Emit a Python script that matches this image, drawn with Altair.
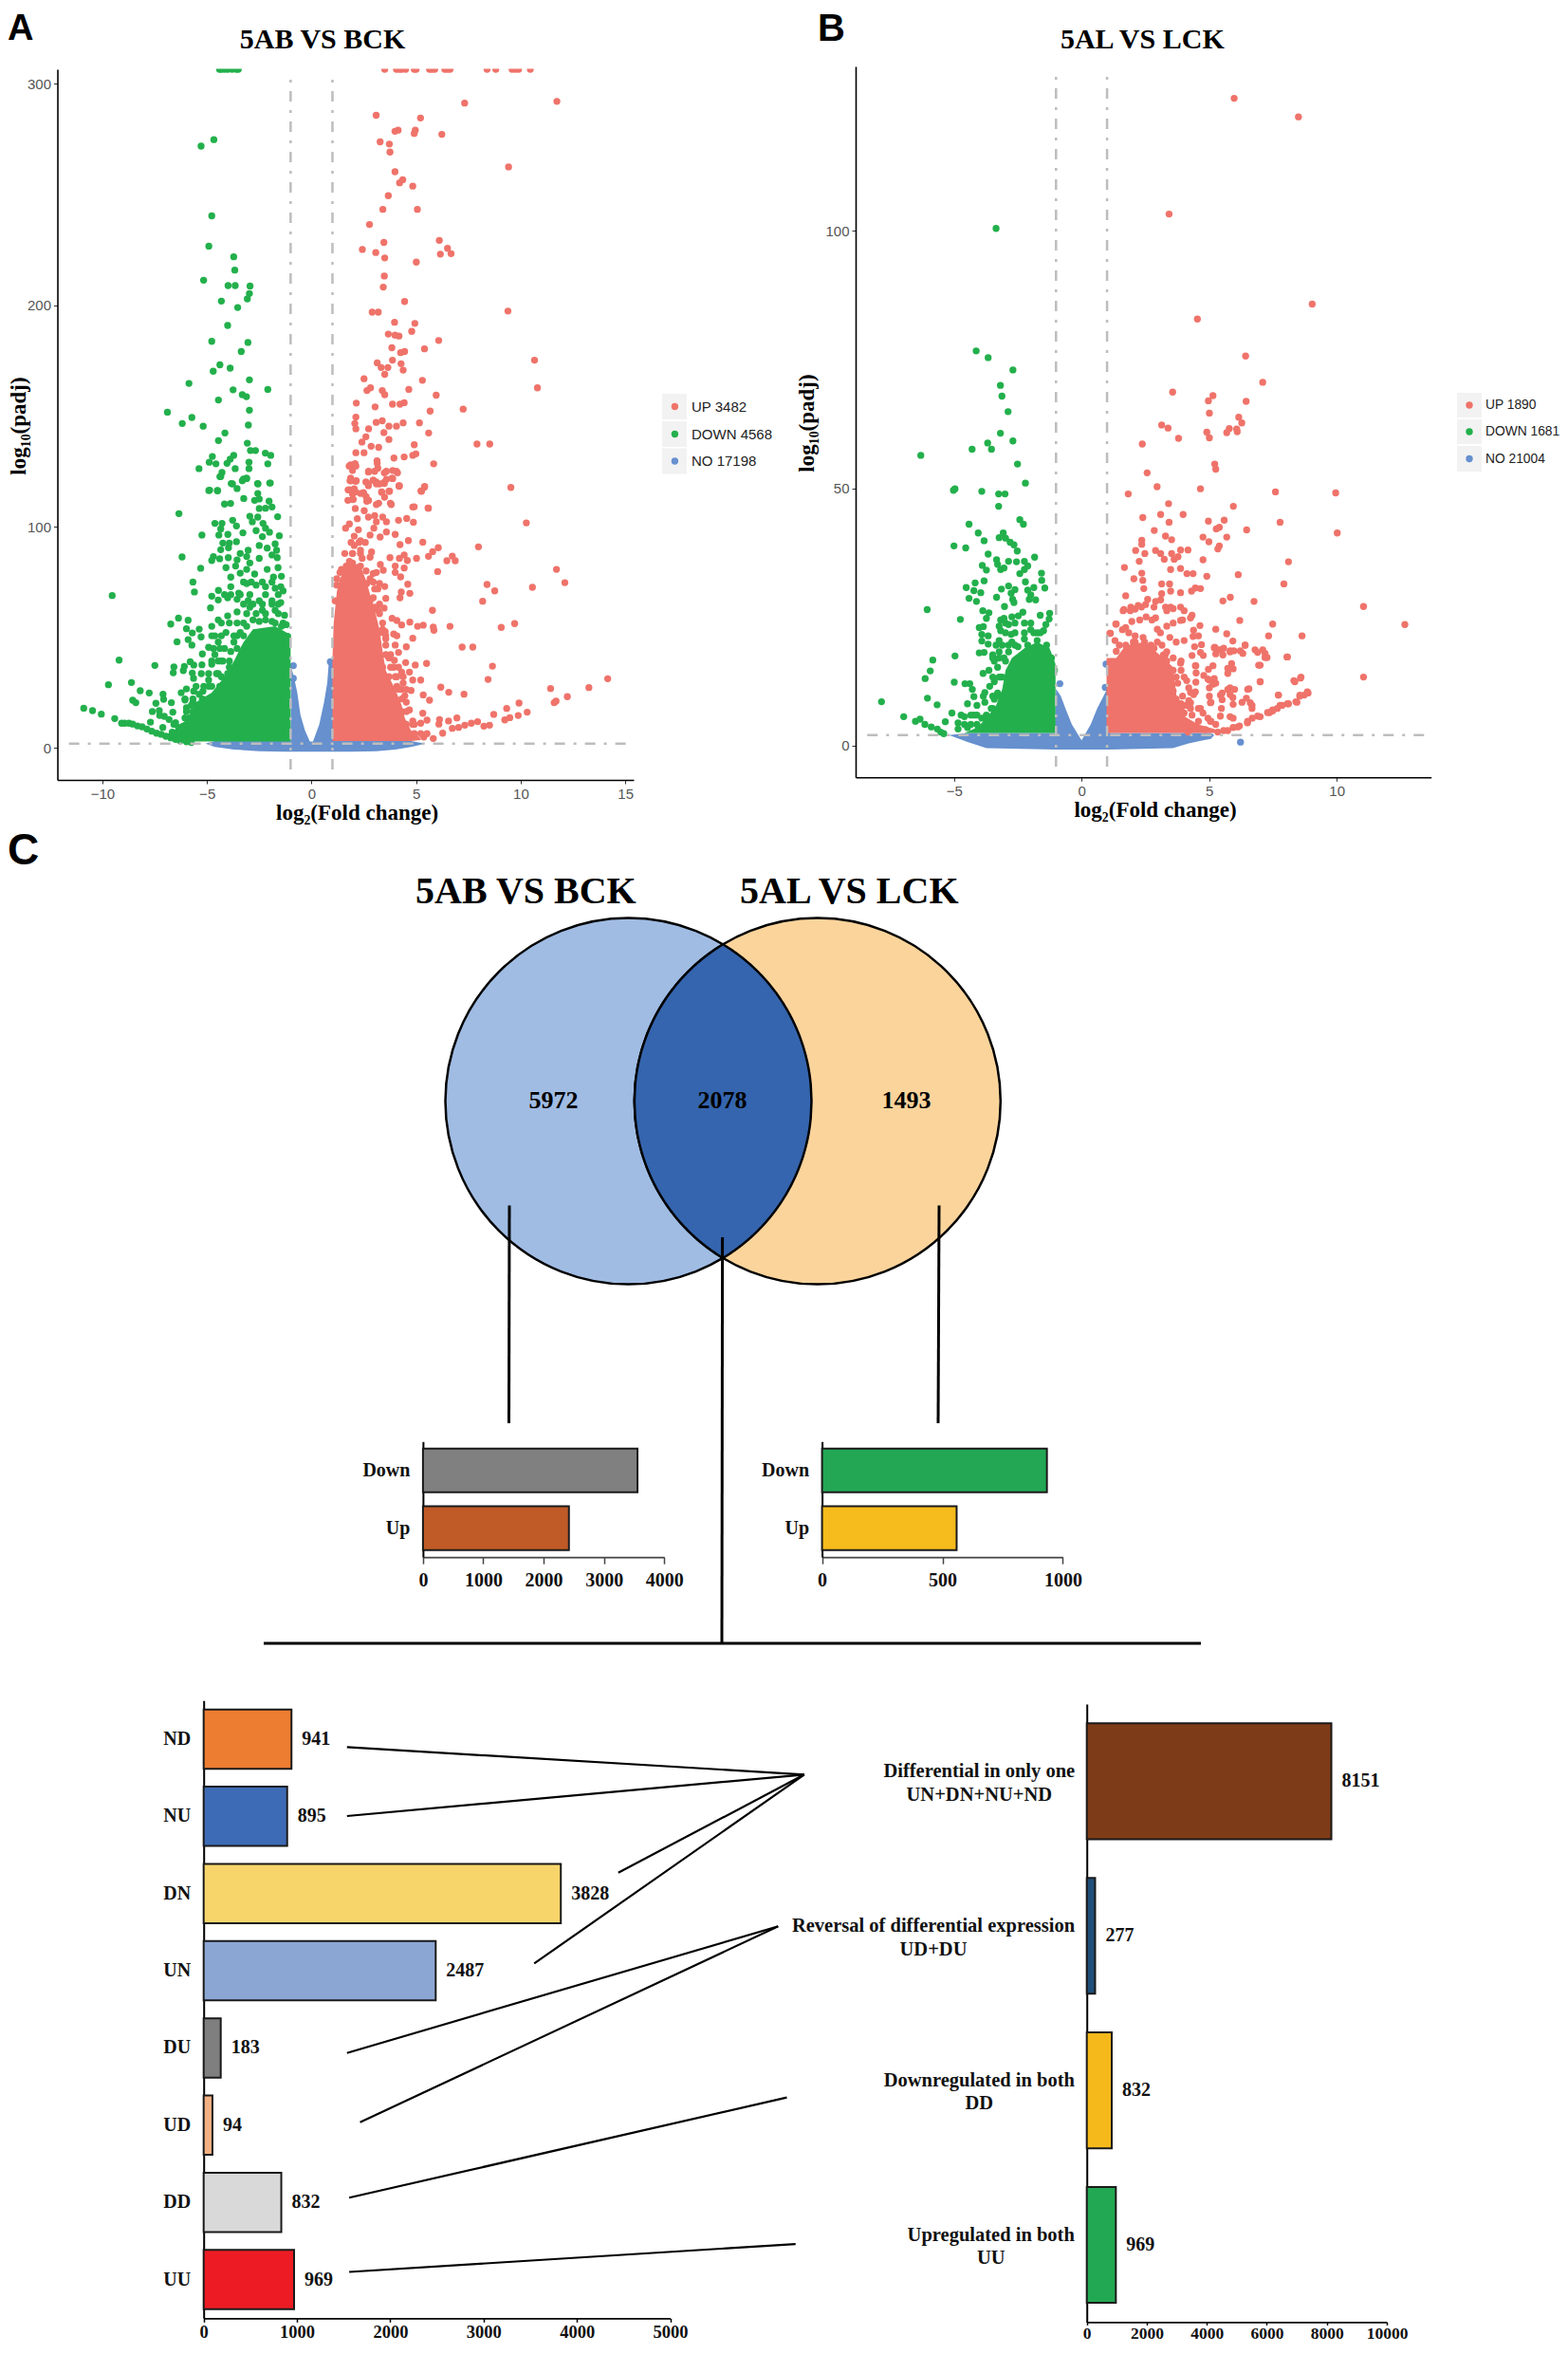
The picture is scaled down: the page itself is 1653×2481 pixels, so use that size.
import numpy as np
import pandas as pd
import altair as alt

W, H = 1637, 2461
SERIF = "Liberation Serif"
SANS = "Liberation Sans"
RED, GREEN, BLUE = "#EF736A", "#23B04C", "#6690CE"
RULE = "#BDBDBD"
DASH = [11, 9, 3, 9]
PT = 54

# ---------- Panel A values ----------
a_top_green_x = [-4.4, -4.3, -4.15, -4.0, -3.8, -3.6, -3.5]
a_top_red_x = [3.5, 4.06, 4.2, 4.31, 4.5, 4.91, 5.0, 5.64, 5.75, 5.89, 6.37, 6.5, 6.62, 8.39, 8.81, 9.59, 9.75, 9.9, 10.46]
a_down = [(-5.28,271.9),(-4.67,274.8),(-4.77,240.4),(-4.91,226.7),(-3.72,221.9),(-3.67,215.9),(-5.16,211.3),(-3.99,208.9),(-3.65,208.9),(-2.94,208.7),
 (-2.97,205.3),(-3.07,202.9),(-4.31,201.9),(-3.53,199),(-4.01,190.9),(-4.77,183.7),(-3.04,183.2),(-3.36,179.1),(-4.38,173.1),(-4.7,170.2),(-3.89,171.6),
 (-2.97,166.3),(-5.86,164.7),(-3.75,161.8),(-2.09,162),(-3.31,159.6),(-3.11,158.7),(-4.45,157.2),(-2.97,152.6),(-6.89,151.7),(-5.72,149.3),(-6.18,146.6),
 (-5.18,145.4),(-3.02,145.9),(-4.14,142.3),(-4.45,138.9),(-3.07,137.7),(-2.92,134.4),(-2.68,134.4),(-2.21,133.2),(-1.95,132.2),(-4.74,131.7),(-3.72,132.2),
 (-3.89,130.5),(-4.89,129.1),(-4.57,128.4),(-4.04,128.6),(-2.99,129.1),(-2.99,126.2),(-2.09,128.4),(-5.38,126.2),(-3.65,126.2),(-4.28,124.5),(-4.38,122.6),
 (-3.11,121.9),(-3.31,120.7),(-3.84,119.5),(-2.58,119.5),(-1.97,119.7),(-4.91,116.3),(-4.5,116.3),(-4.34,122.6),
 (-9.08,11.2),(-8.93,11.2),(-8.73,11.2),(-8.55,10.8),(-8.32,10),(-8.1,9.6),(-7.87,8.6),(-7.64,7.6),(-7.41,6.7),(-7.19,6.2),(-6.96,5.3),(-6.73,4.6),(-6.5,3.9),(-6.28,3.3),(-5.98,2.8),(-5.75,2.5),
 (-9.53,68.9),(-9.2,39.7),(-9.71,28.6),(-10.89,18),(-10.47,16.9),(-10.05,15.3),(-9.41,13.3),(-8.61,29.6),(-8.19,25.9),(-7.76,24.9),(-7.49,37.3),(-8.55,21.6),(-8.4,20.5),
 (-7.1,24.3),(-7.07,22),(-7.44,20.2),(-6.7,20.5),(-7.61,16.5),(-7.28,16.9),(-6.63,16.2),(-7.26,14.7),(-7.7,11.7),(-7.04,14.3),(-6.81,12.9),(-7.11,9.3),(-6.5,11.5),(-6.13,10),
 (-6.34,105.9),(-5.24,96.2),(-6.19,86.3),(-5.3,81.2),(-5.67,75),(-5.6,70.5),(-6.36,58.7),(-6.73,56),(-5.9,57.7),(-5.98,53.9),(-5.37,53.7),(-5.7,52),(-5.28,50.2),(-5.9,49),(-6.43,48),
 (-5.72,46.5),(-4.92,45.5),(-5.22,42.5),(-5.8,39),(-5.63,37.5),(-5.24,37.6),(-6.08,36.9),(-6.58,36.6),(-6.13,35),(-6.61,34),(-5.7,33.9),(-5.27,33.6),(-5.64,31.5),(-6.23,25),(-5.98,26.7),
 (-5.63,25.7),(-5.19,25.7),(-6.05,21.7),(-5.67,20.7),(-5.98,18.2),(-5.45,17.9),(-5.83,13.6),(-4.83,63.3),(-4.77,68.6),(-4.45,71.2),(-4.46,66.9),(-4.39,85.5),(-4.77,84.7),(-4.69,86.5),
 (-4.87,116.5),(-4.49,116.2),(-4.16,110.2),(-3.87,110.5),(-4.62,101.5),(-4.28,101.5),(-4.43,96.2),(-4,96.5),(-4.34,99),
 (-3.78,119.3),(-3.56,117.2),(-3.25,121.5),(-3.1,121.7),(-2.56,119.3),(-2,119.7),(-2.57,115),(-2.72,111.9),(-2.5,112.5),(-3.24,112.7),(-2.03,111.5),(-1.89,108.9),(-2.2,108.3),(-2.5,108.2),
 (-2.95,104.7),(-2.57,104.3),(-2.83,102.2),(-1.62,104.5),(-2.32,101.5),(-2.65,98.2),(-2.2,99.3),(-2.01,97.5),(-2.35,95.5),(-1.54,95.9),(-3.77,102.9),(-3.59,100.3),(-3.28,97.2),(-4.24,92.6),
 (-3.93,92.6),(-3.59,93.2),(-4.34,89.6),(-3.97,90.5),(-3.03,89.3),(-3.41,87.9),(-2.5,91.5),(-2.12,90.3),(-1.74,92.2),(-1.67,89.3),(-1.89,87.2),(-1.64,86),(-3.98,86),(-3.56,85),(-3.1,86.5),
 (-2.5,85.7),(-2.95,83.6),(-4.09,81.5),(-3.63,82.2),(-3.1,80.7),(-2.12,80.7),(-1.6,81.5),(-2.72,78.6),(-1.82,77.2),(-1.44,77.6),(-3.86,77.2),(-3.41,79),(-3.86,72.9),(-3.48,70),(-3.1,74.3),
 (-2.65,73.6),(-2.2,72.9),(-1.74,72.2),(-1.47,72.9),(-1.36,71),(-4.01,67.9),(-3.56,67.2),(-3.03,66.5),(-2.5,66.5),(-1.89,66.5),(-1.47,65.7),(-3.56,61.5),(-2.95,63.6),(-2.35,62.2),(-1.74,62.2),
 (-1.29,60),(-4.01,59.7),(-4.46,57.9),(-4.77,55),(-3.56,56.5),(-2.8,57.9),(-2.2,57.9),(-1.21,55.7),(-4.62,50.7),(-4.09,52.2),(-1.14,50.5),(-4.46,47.9),(-4.62,42.2),(-4.31,39.3),(-4.77,37.9),
 (-4.92,30.7),(-4.31,32.2),(-3.93,36.5),(-3.71,47.9),(-3.41,52.2),
 (-3.1,55),(-2.5,57.2),(-1.89,57.2),(-1.44,55),(-3.56,50.7),(-3.86,43.6),(-4.24,39.3),(-4.54,33.6),(-4.92,27.9),(-5.37,24.3),(-5.75,19.3),(-6.05,13.6),(-6.36,9.3),(-6.66,7.2),
 (-3.1,60.7),(-2.65,60.7),(-2.2,60.7),(-1.59,60.7),(-3.25,65),(-2.8,65),(-2.35,65),(-1.89,65),(-1.59,65),(-4.16,69.3),(-3.86,69.3),(-3.41,69.3),(-2.95,69.3),(-2.2,69.3),(-1.59,69.3),
 (-3.25,75),(-2.88,75),(-2.35,75),(-1.89,75),(-4.31,56.5),(-3.93,56.5),(-3.25,56.5),(-1.74,56.5),(-1.36,56.5),(-4.77,50.7),(-4.31,50.7),(-3.71,50.7),(-3.25,50.7),(-4.69,45),(-4.39,45),(-4.16,45),(-3.56,45),
 (-4.77,39.3),(-4.46,39.3),(-3.93,39.3),(-4.92,33.6),(-4.46,33.6),(-4.01,33.6),(-5.52,27.9),(-5.15,27.9),(-4.77,27.9),(-4.39,27.9),(-6.05,22.2),(-5.67,22.2),(-5.22,22.2),(-4.92,22.2),(-5.98,16.5),(-5.67,16.5),(-5.22,16.5),
 (-5.98,10.7),(-5.52,10.7),(-6.58,10.7)]
a_up = [(7.32,291.3),(11.73,292.1),(3.09,285.8),(5.21,284.6),(4.14,279.1),(3.99,278.6),(4.96,279.1),(4.91,277.6),(6.23,277.2),(3.28,273.8),(3.72,272.8),(3.75,269.2),(9.42,262.5),(3.99,260.3),
 (4.36,256.7),(4.21,255.3),(4.84,253.8),(3.67,249.5),(3.41,243.3),(5.06,243.3),(2.77,236.5),(3.46,228.4),(6.11,229.3),(6.5,225.7),(2.43,225.2),(3.07,223.8),(6.16,223.1),(6.67,223.3),(3.5,221.4),
 (5.01,219.5),(3.48,213.2),(3.43,208.2),(4.45,201.7),(2.9,196.9),(3.19,196.9),(9.39,197.4),(3.97,192.3),(4.94,191.8),(4.79,188.2),(3.67,187),(3.99,186.5),(4.18,186.1),(6.08,184.1),(3.84,180.8),
 (5.4,180.3),(4.45,179.1),(4.26,178.6),(10.66,175.2),(10.8,162.7),(3.14,174),(3.33,171.9),(3.87,175.2),(4.28,173.6),(4.38,170.7),(3.65,171.9),(3.5,168.8),(2.51,166.8),(5.3,166.1),(2.82,162.7),
 (2.65,161.5),(3.38,161.5),(3.5,159.6),(4.65,162),(5.96,159.4),(2.14,155.8),(3.87,155.3),(4.23,155.3),(4.43,156),(3.04,154.1),(5.67,152.2),(7.25,153.1),(2.12,149.5),(2.07,146.6),(3.09,147.1),
 (3.38,147.8),(4.38,146.9),(4.06,145.4),(3.7,145.4),(5.16,146.9),(2.73,144.2),(2.12,144.2),(3.46,142.5),(3.7,139.4),(5.6,142.3),(4.91,137),(7.91,137.3),(8.52,137.3),(2.41,138.2),(2.6,140.6),
 (2.85,136.3),(2.12,133.4),(2.51,133.4),(3.21,135.8),(3.94,131),(4.43,131.5),(4.84,132.2),(4.99,132.9),(5.84,128.4),(1.87,127.9),(2.12,127.4),(2.73,125),(3.14,128.6),(3.58,125),(4.06,125),
 (5.4,117.8),(5.23,116.1),(4.18,118.5),(3.58,121.4),(3.09,120.2),(2.6,120.2),(1.87,121.9),(1.75,116.6),(2,112.3),(2.48,115.4),(2.73,111.8),(3.21,110.6),(3.77,110.6),(4.84,108.9),(5.57,108.4),
 (9.53,117.7),(10.27,101.7),(11.71,80.7),(12.11,74.7),(10.56,72.6),(8.39,73.9),(8.76,71),(8.18,66.3),(5.78,62.2),(9.71,56.2),(9.07,54.5),(6.62,55),(5.82,54.6),(5.85,53.2),(5.34,55.5),(5.07,55),
 (4.7,56.9),(7.98,90.9),(5.41,118.2),(5.26,116),(4.91,109),(5.59,108.3),(4.16,102.9),(4.55,103.7),(4.87,102),(5.32,93),(4.63,93.7),(4.23,91.9),(6.06,90.5),(5.79,88.7),(5.59,86.6),(6.73,86.7),
 (6.87,84.6),(6.47,84.6),(5.02,85.7),(4.58,84.7),(4.43,87.2),(4.2,85.7),(3.75,86),(6.03,79.7),(4.43,81.3),(4,82.2),(4,79.3),(4.26,77.3),(3.29,82.9),(3.43,80.3),(4.6,74),(4.29,70.5),(4.7,69.9),
 (4.23,67.9),(3.55,67.6),(3.5,73),(3.17,71.9),(3.25,65),(3.47,63.2),(3.85,58.6),(4.08,57.6),(4.31,55.6),(3.52,52.6),(3.93,51.5),(4.08,50.7),(4.84,49.6),(3.55,49.3),(4,46.5),(4.53,45.7),(4.16,43.2),
 (3.7,41),(3.96,39.6),(7.2,45.6),(7.71,45.6),(4.5,38.6),(4.96,37.5),(5.5,38.2),(8.65,37),(8.44,31),(14.16,31.3),(13.26,27.3),(11.43,26.9),(12.23,23.2),(11.69,21.2),(11.6,20.5),(9.92,20.3),(9.33,17.9),
 (10.31,16.2),(9.88,14.7),(9.48,13.7),(9.24,12.7),(8.71,15.2),(8.51,10.3),(8.24,9.9),(7.94,11.9),(7.64,11.2),(7.33,10.3),(7.03,9.3),(6.73,8.9),(6.27,6.7),(6.95,13.6),(6.55,12.2),(6.12,12.9),(6.09,10.8),
 (6.18,27.5),(6.56,25.2),(7.29,24.3),(5.34,24),(5.64,21.6),(5.32,15.7),(5.52,12.6),(5.22,11.2),(4.91,10.7),(4.68,17.2),(4.46,23.6),(4.76,26),(4.68,34.3),(4.31,34.3),(5.22,30.7),(4.84,30.7),(4.38,29.3),
 (4.08,27.9),(5.82,4.3),(5.37,5),(1.84,120.7),(2.11,120.5),(2.72,119.3),(2.95,121),(3.25,119.3),(3.47,120),(3.85,121.9),(3.7,116),(4.19,118.2),(3.36,115.5),(3.49,113.3),(1.89,116.5),(2.11,115.7),
 (2.34,115),(2.61,113.6),(2.64,111.5),(1.74,111.9),(1.96,112.2),(3.1,110),(3.81,110),(2.09,108.2),(2.52,107.2),(2.19,103.6),(2.72,104.3),(3.02,105),(3.4,104.3),(3.58,102.2),(3.1,102.2),(2.98,99.3),
 (1.81,101.2),(1.63,99.3),(2.24,98.6),(3.58,97.6),(4,96.5),(3.28,95.3),(2.8,96.2),(2.04,95.7),(2.34,93.6),(2.04,91.5),(2.87,88.6),(2.8,86.2),(2.42,85.7),(2.34,89.3),(1.96,87.9),(1.81,84.3),(1.43,80.7),
 (2.19,81.5),(2.61,80),(2.95,78.9),
 (1.80,127.4),(2.08,128.5),(1.96,125.4),(3.13,129.7),(2.72,124.7),(3.17,126.4),(3.02,125),(3.48,124.3),(3.88,125.4),(4.11,124.3),(3.88,121.7),(1.89,120.7),(2.14,120.7),(1.81,116.7),(2.04,117.1),(1.96,114.7),
 (2.49,115),(2.72,118.5),(2.95,121),(3.1,119.3),(3.48,119.5),(3.35,115.7),(3.73,116),(4.2,118.5),
 (1.66,82.2),(1.96,83.6),(2.34,82.2),(2.8,76.5),(2.64,74.3),(3.02,71.9),(2.95,67.9),(3.17,62.2),(3.4,56.5),(3.33,52.2),(3.55,46.5),(3.7,40.7),(3.93,36.5),(4.08,32.2),(4.31,26.5),(4.53,20.7),(4.84,12.2),
 (1.21,73.6),(1.13,66.5),(1.21,76.5),(1.36,79.3),
 (3.55,42.2),(3.78,42.2),(3.4,36.5),(3.78,36.5),(4.16,36.5),(3.7,32.2),(4,32.2),(4.38,32.2),(3.55,26.5),(4.16,26.5),(4.53,26.5),(3.93,22.2),(4.31,22.2),(3.85,16.5),(4.31,16.5),(4.53,16.5),(4.16,10.7),(4.53,10.7),(4.84,10.7),
 (4.53,6.5),(4.91,6.5),(5.22,6.5),(5.52,6.5),(2.95,75),(3.1,79.3),(3.25,74.3),(2.8,66.5),(3.02,63.6),(3.25,60.7),(3.4,53.6),(3.55,50.7),(1.59,87.9),(1.96,87.9),(2.34,87.9),(1.89,92.9),(2.27,92.9),(2.57,92.9)]
a_no = [(-0.87,37.2),(-0.87,31.5),(0.9,39)]
a_down_blob_x = [-7.2, -6.58, -5.98, -5.52, -4.77, -4.16, -3.71, -3.25, -2.8, -1.74, -1.06, -1.0]
a_down_blob_top = [5, 7.9, 12.2, 20.7, 25, 32.2, 39.3, 47.9, 53.6, 55, 51.5, 47]
a_down_blob_bot = [5, 3.2, 2.8, 3, 3, 3, 3, 3, 3, 3, 3, 3]
a_up_blob_x = [1.0, 1.06, 1.21, 1.36, 1.74, 2.34, 2.64, 2.8, 3.1, 3.25, 3.4, 3.55, 4, 4.31, 4.46, 4.76, 5.22]
a_up_blob_top = [40, 56.5, 70.7, 76.5, 83.6, 82.2, 75, 69.3, 59.3, 53.6, 43.6, 35, 26.5, 19.3, 13.6, 7.9, 4.3]
a_up_blob_bot = [3.2, 3.2, 3.2, 3.2, 3.2, 3.2, 3.2, 3.2, 3.2, 3.2, 3.2, 3.2, 3.2, 3.2, 3.2, 3.2, 3.6]
a_no_x = [-5.07, -4.62, -3.71, -2.5, -1.29, -1.0, -0.98, -0.84, -0.68, -0.53, -0.31, -0.08, 0.07, 0.37, 0.6, 0.75, 0.83, 1.05, 1.89, 3.1, 4, 4.76, 5.44]
a_no_top = [2, 3.2, 3.2, 3.2, 3.2, 3.2, 37, 32, 25, 15, 7.9, 3, 3, 10.7, 20.7, 29.3, 39.3, 40, 3.2, 3.2, 3.2, 3.2, 2]
a_no_bot = [2, 0.5, -0.7, -1.4, -1.7, -1.7, -1.7, -1.7, -1.7, -1.7, -1.7, -1.7, -1.7, -1.7, -1.7, -1.7, -1.7, -1.7, -1.7, -1.4, -0.7, 0.5, 2]

# ---------- Panel B values ----------
b_down = [(-3.35,100.5),(-4.13,76.7),(-3.66,75.4),(-2.69,73),(-3.18,70),(-3.12,67.9),(-2.88,64.9),(-3.18,60.7),(-3.68,58.8),(-4.29,57.6),(-3.53,57.6),(-2.69,59.2),
 (-6.3,56.4),(-2.51,54.7),(-2.2,51),(-4.96,49.9),(-5.02,49.6),(-3.91,49.4),(-3.25,48.9),(-3,48.9),(-3.25,46.5),(-2.42,43.9),(-2.28,43),(-4.41,43),(-4.05,41.3),(-3.82,39.8),(-3.07,41.3),(-3.23,40.4),
 (-2.98,40.3),(-2.8,39.5),(-2.65,39),(-5,38.8),(-4.54,38.4),(-2.52,37.8),(-3.66,37.2),(-1.84,36.6),(-3.33,36.1),(-2.86,35.8),(-2.55,35.7),(-2.24,35.8),(-3.89,35),(-3.73,34.1),(-3.29,35.2),(-3.17,34.2),
 (-3.04,34.5),(-2.11,34.9),(-2.24,34.2),(-1.57,33.5),(-2.42,33.4),(-1.56,32.1),(-2.2,31.8),(-3.82,32),(-4.17,31.6),(-4.52,30.7),(-4.22,30.1),(-3.95,29.7),(-4.41,28.6),(-4.12,28),(-3.14,30.4),(-2.86,31),
 (-2.61,30.3),(-2.76,29.6),(-3.33,28.8),(-2.7,28.4),(-2.65,27.8),(-3.02,27),(-1.87,30.7),(-2.11,30.2),(-1.99,29.3),(-2.05,28.4),(-1.8,28.3),(-1.44,30.6),(-6.05,26.4),(-4.75,24.5),(-3.87,26.2),(-3.63,25.8),
 (-3.73,24.7),(-2.3,25.9),(-2.48,25.2),(-2.73,25),(-3.04,24.7),(-3.17,24.4),(-1.25,25.7),(-1.27,24.6),(-1.62,25.3),(-1.4,23.5),(-1.49,22.3),(-4.01,22.9),(-3.85,23.1),(-3.23,23.2),(-3.17,22.3),(-2.76,21.6),
 (-2.86,23.5),(-3.91,21.6),(-3.66,21.3),(-3.91,20.3),(-3.66,19.7),(-3.23,20.4),(-4.01,18),(-3.82,18.1),(-4.96,17.4),(-5.83,16.6),(-5.93,14.5),(-6.13,13),(-4.99,12.3),(-3.86,14),(-3.63,14.6),(-4.57,12),(-4.38,12),
 (-4.28,10.9),(-4.22,9.5),(-6.04,9.2),(-5.66,7.9),(-7.84,8.5),(-6.97,5.6),(-5.08,6.3),(-5.34,4.6),(-6.51,4.7),(-6.33,5.1),(-6.14,4.1),(-5.89,3.6),(-5.65,3.2),(-5.52,2.6),(-5.4,2.3),(-4.59,5.6),(-4.84,4.4),
 (-4.22,5.9),(-4.47,8.1),(-4.1,7.8),(-3.79,10.3),(-3.6,11.5),(-3.42,12.4),(-3.17,13.3),(-3.48,17.6),(-3.23,18.2),(-3.42,16.4),(-3.29,15.2),(-3.79,8.4),(-3.42,9),(-3.48,7.2),(-3.79,5.3),(-4.1,4.1),(-4.59,4.1),
 (-2.73,20.1),(-2.24,23.8),(-1.99,22.5),(-1.74,21.9),(-2.24,20.7),
 (-2.86,18.2),(-2.49,19.2),(-2.11,19.5),(-1.74,20.4),(-1.37,19.5),(-1.18,17),(-1.06,14.6),(-2.98,16.4),(-3.11,13.3),(-3.29,10.2),(-3.54,7.2),(-3.91,5.3),(-4.34,4.1),(-4.47,3.5),(-4.84,3.2),
 (-2.98,21.9),(-2.61,21.9),(-2.24,21.9),(-1.87,21.9),(-1.62,21.9),(-2.98,23.8),(-2.61,23.8),(-1.99,23.8),(-3.35,19.5),(-3.11,19.5),(-2.86,19.5),(-2.61,19.5),(-3.48,17),(-3.23,17),(-3.04,17),(-3.23,13.3),(-3.48,13.3),
 (-3.85,9.6),(-3.48,9.6),(-3.23,9.6),(-4.72,5.9),(-4.34,5.9),(-4.1,5.9),(-3.73,5.9)]
b_up = [(5.98,125.8),(8.5,122.2),(3.43,103.3),(9.04,85.8),(4.54,82.9),(6.43,75.7),(7.1,70.6),(3.57,68.7),(5.15,68),(4.97,67),(6.45,66.9),(5.01,64.6),(6.16,63.8),(6.28,62.7),(3.14,62.3),(3.39,61.7),(5.79,61.6),
 (5.69,60.8),(6.1,61),(6.08,61.5),(4.91,60.9),(5.01,59.8),(3.8,59.7),(2.38,58.6),(5.22,54.7),(5.26,53.7),(2.57,53),(2.96,50.3),(4.66,49.9),(1.83,48.9),(7.6,49.3),(9.96,49.1),(3.41,47),(5.95,46.5),(3.1,44.9),
 (2.4,44.3),(3.98,44.9),(4.97,43.6),(5.59,43.8),(3.43,43.4),(7.78,43.4),(5.4,42.4),(5.28,42.1),(6.47,41.9),(2.85,41.8),(10.02,41.3),(4.76,40.5),(5.69,40.5),(3.29,40.7),(3.53,40),(2.36,39.9),(2.36,39.1),(4.99,39.6),
 (5.4,38.8),(5.34,38.2),(2.12,37.9),(2.48,37.3),(2.9,37.9),(3.1,37.3),(3.53,37.3),(3.88,38),(4.17,38),(4.76,36.1),(3.24,36.2),(3.63,36.2),(3.78,36.7),(2.26,35.8),(8.11,35.7),(1.68,34.6),(3.49,34.2),(3.88,34.4),
 (4.13,33.4),(4.37,33.4),(6.14,33.2),(4.91,32.9),(2.36,33.5),(2.4,32.1),(2.05,32.4),(2.44,30.5),(3.14,31.4),(3.45,31.4),(4.46,30.6),(4.66,30.5),(3.88,29.7),(7.93,31.4),(1.73,29.1),(3.14,29.5),(3.49,30),(4.31,30),
 (5.83,28.8),(5.54,28.1),(6.76,28),(11.05,27),(12.67,23.5),(1.66,26.4),(1.93,26.9),(2.22,27.2),(2.51,27.4),(2.9,28),(3.1,28.3),(3.29,26.9),(3.49,26.9),(3.88,26.9),(1.34,23.6),(1.11,21.8),(2.9,24.8),(3.88,24.3),
 (4.27,24.8),(5.26,22.6),(5.69,21.7),(6.2,24.3),(7.49,23.6),(7.33,21.3),(8.64,21.3),(5.93,20.3),(5.22,19.1),(5.45,18.6),(5.83,18.4),(6.22,18.4),(6.41,19.5),(6.8,18.6),(6.9,18.1),(7.19,17.1),(8.05,17.2),(6.94,15.6),
 (5.73,15),(5.15,15.5),(4.46,15.5),(3.88,16),(4.66,18.1),(4.37,21.2),(11.05,13.3),(7,12.4),(8.6,13.3),(8.32,12.6),(6.51,10.9),(5.73,10.9),(4.95,12.9),(5.15,11.9),(7.72,9.8),(5.44,9.8),(5.93,9.3),(6.61,8.3),
 (5.05,8.3),(4.46,10.4),(4.66,7.2),(4.27,8.3),(8.85,10.4),(8.56,9.8),(8.4,8.5),(8.07,8.1),(7.78,7.8),(7.49,6.7),(7.29,6.4),(6.9,5.7),(6.51,4.7),(6.12,3.6),(5.73,2.9),(5.34,2.6),(4.85,3.1),(4.17,2.6),(5.44,5.7),(5.05,4.7),
 (1.13,21.8),(1.31,20.4),(1.36,23.6),(1.6,22.5),(1.73,22.9),(1.91,26.2),(1.63,26.2),(2.1,26.5),(2.35,26.9),(2.59,28.4),(2.84,26.9),(1.97,24.1),(2.28,24.4),(2.53,25),(2.76,24.4),(2.97,22.6),(3.34,23.2),(3.59,23.8),
 (3.96,24.4),(4.33,25.3),(3.34,26.2),(3.59,26.6),(4.02,26.2),(4.64,23.3),(4.39,22.4),(4.58,21.3),(4.02,20.4),(3.71,20.1),(3.46,21),(2.41,21),(2.03,20.1),(3.15,19.5),(3.28,17.6),(3.9,16.4),(3.09,21.9),(4.43,19.2),
 (4.7,19.6),(4.33,17.5),(4.77,17.5),(4.48,15.5),(4.49,14.1),(4.79,13.6),(4.97,14.8),(5.2,19),(5.38,18.6),(5.57,18.9),(5.26,17.8),(5.54,17.6),(5.82,18.2),(5.97,18.4),(6.32,17.9),(6.41,19.5),(7.1,18.6),(7.19,17.9),
 (7.27,17.1),(8.07,17.2),(7,15.6),(5.88,15.9),(5.94,14.9),(5.73,14),(7,12.4),(8.36,12.4),(8.58,13.1),(5.01,12.7),(5.2,13),(5.26,12.1),(4.12,12.6),(4.48,12.3),(5.82,11.2),(6,10.9),(5.82,9.9),(6.56,11),(7.71,9.8),
 (5.51,10.2),(5.51,8.9),(5.01,11.2),(5.01,9.6),(5.07,8.4),(6.46,9.2),(6.29,8.4),(6.68,7.8),(6.68,7.2),(5.94,8),(5.48,7.2),(4.58,7.2),(4.76,6.3),(5.82,5.6),(5.94,5.3),(4.95,5.3),(5.07,4.7),(5.26,4.1),(4.27,10.3),
 (4.39,9.9),(4.2,8.7),(4.27,7.2),(3.9,8.1),(3.71,9),(3.59,10.6),(3.46,9),(8.88,10.2),(8.73,9.8),(8.55,9.6),(8.44,8.4),(8.11,8.1),(7.86,7.8),(7.67,7.2),(7.49,6.9),(7.37,6.4),(7,5.6),(6.69,5.3),(6.5,4.4),(6.19,3.8),(5.94,3.5),(5.57,2.9),
 (1.36,18.3),(1.73,19.5),(2.1,20.1),(2.47,20.1),(2.84,18.9),(3.21,17.6),(3.59,14.6),(3.77,12.1),(3.71,8.4),(4.02,6.3),(4.58,4.7),
 (1.48,19.5),(1.85,21.9),(2.1,21.3),(2.72,19.5),(2.97,20.1),(3.34,18.2),(3.59,17),(3.9,14.6),(4.02,13.3),(4.2,11.2),(3.71,13.3),(3.34,16.4),(3.96,9.6),(4.08,7.8),(4.33,5.9),(3.9,7.2)]
b_no = [(0.96,15.8),(0.93,11.3),(-0.85,12),(6.23,0.65)]
b_down_blob_x = [-4.59, -4.22, -3.97, -3.73, -3.35, -3.11, -2.98, -2.73, -2.24, -1.74, -1.25, -1.02]
b_down_blob_top = [2.45, 3.2, 4.1, 5.3, 7.8, 10.9, 14.6, 17, 18.9, 20.1, 18.9, 15.8]
b_down_blob_bot = [2.45, 2.45, 2.45, 2.45, 2.45, 2.45, 2.45, 2.45, 2.45, 2.45, 2.45, 2.45]
b_up_blob_x = [0.98, 1.36, 1.73, 2.47, 2.9, 3.21, 3.59, 3.71, 3.96, 4.57, 5.2, 5.44]
b_up_blob_top = [17, 17, 19.5, 20.1, 18.3, 17, 15.2, 10, 5.9, 4.1, 3.2, 2.45]
b_up_blob_bot = [2.45, 2.45, 2.45, 2.45, 2.45, 2.45, 2.45, 2.45, 2.45, 2.45, 2.45, 2.45]
b_no_x = [-5.2, -4.47, -3.73, -1.05, -1.0, -0.81, -0.63, -0.38, 0.0, 0.36, 0.61, 0.86, 1.05, 1.1, 3.58, 4.2, 5.07, 5.2]
b_no_top = [2, 2.45, 2.45, 2.45, 11, 9.6, 7.2, 4.1, 1, 4.1, 7.2, 9.6, 11.5, 2.45, 2.45, 2.45, 2.45, 2]
b_no_bot = [2, 0.7, -0.5, -0.8, -0.8, -0.8, -0.8, -0.8, -0.8, -0.8, -0.8, -0.8, -0.8, -0.8, -0.5, 0.4, 1.3, 2]

# ---------- Bars ----------
left_cats = ["Down", "Up"]
left_vals = [3557, 2420]
left_cols = ["#808080", "#C05A27"]
right_cats = ["Down", "Up"]
right_vals = [934, 559]
right_cols = ["#23A755", "#F6BB1C"]
bl_cats = ["ND", "NU", "DN", "UN", "DU", "UD", "DD", "UU"]
bl_vals = [941, 895, 3828, 2487, 183, 94, 832, 969]
bl_cols = ["#ED7D31", "#3E6BB5", "#F7D56B", "#8CA6D4", "#7F7F7F", "#F4B183", "#D9D9D9", "#ED1C24"]
br_cats = ["Differential in only one\nUN+DN+NU+ND", "Reversal of differential expression\nUD+DU", "Downregulated in both\nDD", "Upregulated in both\nUU"]
br_vals = [8151, 277, 832, 969]
br_cols = ["#7E3B17", "#1F4E79", "#F6B91C", "#22A852"]
venn_counts = ["5972", "2078", "1493"]

# page-pixel scales for annotations
PX = alt.Scale(domain=[8, 8 + W], range=[0, W], nice=False, zero=False)
PY = alt.Scale(domain=[8, 8 + H], range=[0, H], nice=False, zero=False)


def cx(f="x"):
    return alt.X(f"{f}:Q", scale=PX, axis=None)


def cy(f="y"):
    return alt.Y(f"{f}:Q", scale=PY, axis=None)


def txt(x, y, t, size, font=SERIF, weight="bold", align="center", color="black", angle=0):
    d = pd.DataFrame({"x": [x], "y": [y], "t": [t]})
    return alt.Chart(d).mark_text(font=font, fontSize=size, fontWeight=weight, align=align, baseline="middle",
                                  color=color, angle=angle).encode(x=cx(), y=cy(), text="t:N")


def seg(x1, y1, x2, y2, w=2.5, color="black"):
    d = pd.DataFrame({"x": [x1], "y": [y1], "x2": [x2], "y2": [y2]})
    return alt.Chart(d).mark_rule(color=color, strokeWidth=w).encode(x=cx(), y=cy(), x2="x2:Q", y2="y2:Q")


def box(x1, y1, x2, y2, color):
    d = pd.DataFrame({"x": [x1], "y": [y1], "x2": [x2], "y2": [y2]})
    return alt.Chart(d).mark_rect(color=color).encode(x=cx(), y=cy(), x2="x2:Q", y2="y2:Q")


def volcano(x0, x1, y_bot, y_top, xdom, ydom, xticks, yticks, parts, lim):
    xs = alt.Scale(domain=xdom, range=[x0 - 8, x1 - 8], nice=False, zero=False)
    ys = alt.Scale(domain=ydom, range=[y_bot - 8, y_top - 8], nice=False, zero=False)
    axkw = dict(title=None, grid=False, labelFont=SANS, labelFontSize=15, labelColor="#555555", tickColor="#333333",
                tickSize=4, tickWidth=1, domainColor="black", domainWidth=1.6, labelPadding=3)
    xa = alt.Axis(orient="bottom", values=xticks, offset=-(H - (y_bot - 8)), **axkw)
    ya = alt.Axis(orient="left", values=yticks, offset=-(x0 - 8), **axkw)
    out = []
    no_x, no_top, no_bot, down_x, down_top, down_bot, up_x, up_top, up_bot, no_pts, down_pts, up_pts = parts

    def area(xv, t, b, c, x_axis=None, y_axis=None):
        d = pd.DataFrame({"x": xv, "t": t, "b": b})
        return alt.Chart(d).mark_area(color=c, interpolate="linear", opacity=1).encode(
            x=alt.X("x:Q", scale=xs, axis=x_axis), y=alt.Y("t:Q", scale=ys, axis=y_axis), y2="b:Q")
    out.append(area(no_x, no_top, no_bot, BLUE, xa, ya))

    def pts(p, c):
        d = pd.DataFrame(p, columns=["x", "y"])
        return alt.Chart(d).mark_circle(color=c, size=PT, opacity=1).encode(
            x=alt.X("x:Q", scale=xs, axis=None), y=alt.Y("y:Q", scale=ys, axis=None))
    out.append(pts(no_pts, BLUE))
    out.append(area(down_x, down_top, down_bot, GREEN))
    out.append(pts(down_pts, GREEN))
    out.append(area(up_x, up_top, up_bot, RED))
    out.append(pts(up_pts, RED))
    (hl, hr, vt, vb) = lim
    for xx in (-1, 1):
        d = pd.DataFrame({"x": [xx], "a": [vb], "b": [vt]})
        out.append(alt.Chart(d).mark_rule(color=RULE, strokeWidth=2.5, strokeDash=DASH).encode(
            x=alt.X("x:Q", scale=xs, axis=None), y=alt.Y("a:Q", scale=ys, axis=None), y2="b:Q"))
    d = pd.DataFrame({"a": [hl], "b": [hr], "y": [2]})
    out.append(alt.Chart(d).mark_rule(color=RULE, strokeWidth=2.5, strokeDash=DASH).encode(
        x=alt.X("a:Q", scale=xs, axis=None), x2="b:Q", y=alt.Y("y:Q", scale=ys, axis=None)))
    return out


def bars(cats, vals, cols, ax, ax_end, ytop, ybot, xdom, ticks, inner, show_val=True, cat_axis=True, pad=14,
         xaxis_color="black", tick=7, lpad=7, tick_font=20):
    d = pd.DataFrame({"c": cats, "v": vals, "k": cols})
    xs = alt.Scale(domain=xdom, range=[ax - 8, ax_end - 8], nice=False, zero=False)
    ys = alt.Scale(domain=cats, range=[ytop - 8, ybot - 8], paddingInner=inner, paddingOuter=inner / 2)
    base = dict(title=None, grid=False, labelFont=SERIF, labelFontWeight="bold", labelColor="#111111")
    xa = alt.Axis(orient="bottom", values=ticks, offset=-(H - (ybot - 8)), tickSize=tick, tickWidth=1.5, tickColor=xaxis_color,
                  domainColor=xaxis_color, domainWidth=1.8, labelPadding=lpad, labelFontSize=tick_font, format="d",
                  labelFlush=False, labelOverlap=False, **base)
    ya = alt.Axis(orient="left", offset=-(ax - 8), ticks=False, domainColor="black", domainWidth=2, labelPadding=pad,
                  labelFontSize=20, labels=cat_axis, **base)
    layers = [alt.Chart(d).mark_bar(stroke="#1A1A1A", strokeWidth=2, opacity=1).encode(
        x=alt.X("v:Q", scale=xs, axis=xa),
        y=alt.Y("c:N", scale=ys, axis=ya, sort=None),
        color=alt.Color("k:N", scale=None, legend=None))]
    if show_val:
        layers.append(alt.Chart(d).mark_text(font=SERIF, fontSize=20, fontWeight="bold", align="left", dx=11, baseline="middle", color="#111111").encode(
            x=alt.X("v:Q", scale=xs, axis=None), y=alt.Y("c:N", scale=ys, axis=None, sort=None), text="v:Q"))
    return layers


def legend(kx0, kx1, dotx, textx, rows, size=15):
    out = []
    for (top, bot, col, lab) in rows:
        out.append(box(kx0, top, kx1, bot, "#F2F2F2"))
        d = pd.DataFrame({"x": [dotx], "y": [(top + bot) / 2]})
        out.append(alt.Chart(d).mark_circle(color=col, size=PT, opacity=1).encode(x=cx(), y=cy()))
        out.append(txt(textx, (top + bot) / 2, lab, size, font=SANS, weight="normal", align="left", color="#222222"))
    return out


L = []

# ---- A ----
L += volcano(60.5, 668, 822, 73, [-12.15, 15.4], [-14.4, 306.6], [-10, -5, 0, 5, 10, 15], [0, 100, 200, 300],
             (a_no_x, a_no_top, a_no_bot, a_down_blob_x, a_down_blob_top, a_down_blob_bot, a_up_blob_x, a_up_blob_top,
              a_up_blob_bot, a_no,
              a_down + [(v, 306.6) for v in a_top_green_x], a_up + [(v, 306.6) for v in a_top_red_x]),
             (-11.6, 15.4, 304.4, -9.7))
L.append(box(62, 60, 668, 72.5, "white"))
L += [txt(340, 42, "5AB VS BCK", 30), txt(376.6, 857, "log\u2082(Fold change)", 23),
      txt(20, 449, "log\u2081\u2080(padj)", 23, angle=270)]
L += legend(698, 724, 711.4, 729, [(415, 442, RED, "UP 3482"), (444, 471, GREEN, "DOWN 4568"), (472.5, 499.5, BLUE, "NO 17198")])

# ---- B ----
L += volcano(902, 1508.7, 819.3, 70, [-8.855, 13.7], [-6.2, 132], [-5, 0, 5, 10], [0, 50, 100],
             (b_no_x, b_no_top, b_no_bot, b_down_blob_x, b_down_blob_top, b_down_blob_bot, b_up_blob_x, b_up_blob_top,
              b_up_blob_bot, b_no, b_down, b_up),
             (-8.4, 13.7, 131.5, -4.1))
L += [txt(1204.3, 42, "5AL VS LCK", 30), txt(1218, 854, "log\u2082(Fold change)", 23),
      txt(851, 446, "log\u2081\u2080(padj)", 23, angle=270)]
L += legend(1536, 1562, 1549, 1566, [(414, 440, RED, "UP 1890"), (442, 468, GREEN, "DOWN 1681"), (470, 497, BLUE, "NO 21004")], size=13.8)

# ---- letters ----
L += [txt(8, 31, "A", 38, font=SANS, align="left"), txt(862, 31, "B", 40, font=SANS, align="left"),
      txt(8, 897, "C", 46, font=SANS, align="left")]

# ---- Venn ----
cl, cr, vy, r = 662.5, 861.8, 1160.6, 193
for c, col in ((cl, "#A0BCE3"), (cr, "#FBD49B")):
    d = pd.DataFrame({"x": [c], "y": [vy]})
    L.append(alt.Chart(d).mark_circle(size=float(4 * r * r), color=col, opacity=1, stroke="black", strokeWidth=2.5).encode(x=cx(), y=cy()))
lx = np.linspace(cr - r, cl + r, 240)
lh = np.minimum(np.sqrt(np.clip(r * r - (lx - cl) ** 2, 0, None)), np.sqrt(np.clip(r * r - (lx - cr) ** 2, 0, None)))
d = pd.DataFrame({"x": lx, "t": vy - lh, "b": vy + lh})
L.append(alt.Chart(d).mark_area(color="#3565AE", stroke="black", strokeWidth=2.5, opacity=1, interpolate="linear").encode(x=cx(), y=cy("t"), y2="b:Q"))
L += [txt(554.4, 940, "5AB VS BCK", 40), txt(895.3, 940, "5AL VS LCK", 40)]
for xx, tv in zip((583.6, 761.6, 955.6), venn_counts):
    L.append(txt(xx, 1160, tv, 26))
L += [seg(537, 1270.6, 536.5, 1500, 3), seg(761.6, 1304, 761, 1732, 3), seg(990, 1270.6, 989, 1500, 3), seg(278, 1732, 1266, 1732, 3)]

# ---- small bars ----
L += bars(left_cats, left_vals, left_cols, 445.9, 700.2, 1519.3, 1641.1, [0, 4000], [0, 1000, 2000, 3000, 4000], 0.243, False, pad=14, xaxis_color="#444444")
L += bars(right_cats, right_vals, right_cols, 866.6, 1120.4, 1519.3, 1641.1, [0, 1000], [0, 500, 1000], 0.243, False, pad=14, xaxis_color="#444444")

# ---- bottom bars ----
L += bars(bl_cats, bl_vals, bl_cols, 214.7, 706.5, 1792.3, 2443.3, [0, 5000], [0, 1000, 2000, 3000, 4000, 5000], 0.232, True, pad=14, tick=4, lpad=1, tick_font=18.5)
L += bars(br_cats, br_vals, br_cols, 1145.7, 1462, 1795.9, 2447.4, [0, 10000], [0, 2000, 4000, 6000, 8000, 10000], 0.25, True, cat_axis=False, tick=3, lpad=0, tick_font=17.5)

# group captions beside the right bars
group_cx = [1032.3, 984, 1032.3, 1044.7]
group_y = [1867.4, 2030.2, 2192.9, 2355.7]
for gx, gy, lab in zip(group_cx, group_y, br_cats):
    d = pd.DataFrame({"x": [gx], "y": [gy], "t": [lab]})
    L.append(alt.Chart(d).mark_text(font=SERIF, fontSize=20.5, fontWeight="bold", align="center", baseline="middle", color="#111111",
                                    lineBreak="\n", lineHeight=24.4).encode(x=cx(), y=cy(), text="t:N"))

# connectors
conn = [(365.8, 1841.4, 847.9, 1870.3), (365.8, 1914, 847.9, 1870.3), (651.8, 1973.8, 847.9, 1870.3), (563.2, 2069.4, 847.9, 1870.3),
        (365.8, 2163.7, 820.3, 2030.3), (379.6, 2236.8, 820.3, 2030.3), (368.1, 2316.3, 829.5, 2210.6), (368.1, 2394.5, 838.7, 2365.1)]
L += [seg(*c, 2.2) for c in conn]

chart = alt.layer(*L).resolve_scale(x="independent", y="independent", color="independent").resolve_axis(
    x="independent", y="independent").properties(
    width=W, height=H, padding=0, autosize=alt.AutoSizeParams(type="none"), background="white"
).configure_view(stroke=None)

chart.save("out.html", embed_options={"renderer": "svg", "actions": False})
